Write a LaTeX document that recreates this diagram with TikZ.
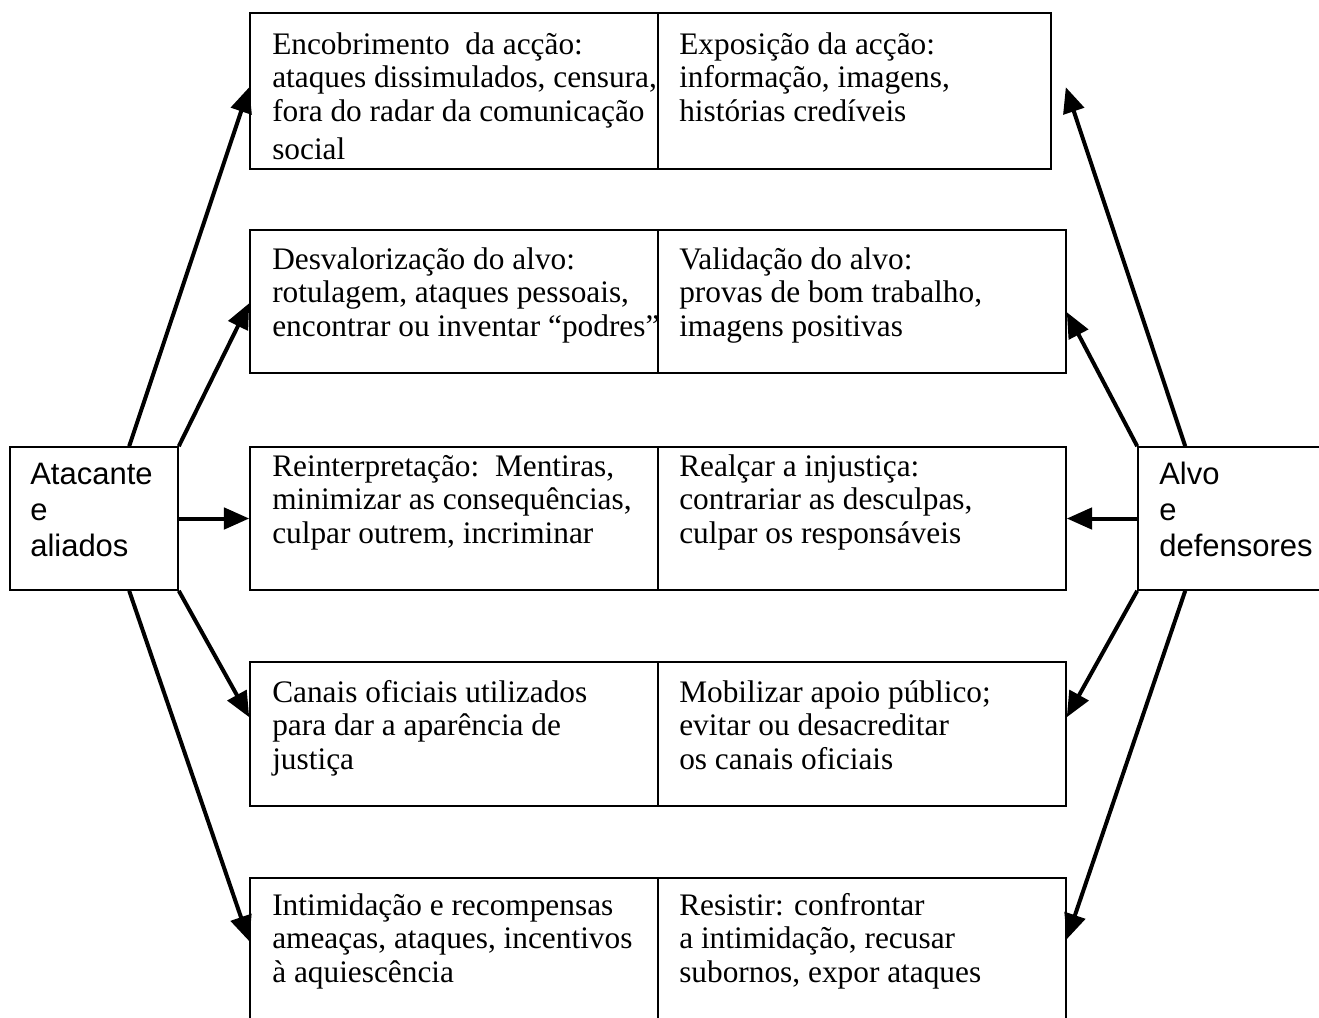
\documentclass[tikz,border=0pt]{standalone}
\usepackage{fontspec}
\setmainfont{Liberation Serif}
\newfontfamily\arl{Liberation Sans}
\usetikzlibrary{arrows.meta,fit,calc}
\begin{document}
\begin{tikzpicture}[x=0.75pt,y=-0.75pt,
  cell/.style={draw, line width=1.2pt, inner sep=0pt},
  txt/.style={inner sep=0pt, anchor=base west, font=\fontsize{23.5pt}{25.4pt}\selectfont},
  sidetxt/.style={inner sep=0pt, anchor=base west, font=\arl\fontsize{23.25pt}{27pt}\selectfont},
  arr/.style={line width=3pt, -{Triangle[length=19pt,width=16pt]}}]
\clip (0,0) rectangle (1319,1017);
\fill[white] (0,0) rectangle (1319,1017);

% text of cells (left column clipped to its cell)
\begin{scope}
\clip (250,13) rectangle (658,169);
\node[txt] (t1l) at (272,54) {\begin{tabular}[t]{@{}l@{}}Encobrimento\ \ da acção:\\ ataques dissimulados, censura,\\ fora do radar da comunicação\\[3pt] social\end{tabular}};
\end{scope}
\node[txt] (t1r) at (679,54) {\begin{tabular}[t]{@{}l@{}}Exposição da acção:\\ informação, imagens,\\ histórias credíveis\end{tabular}};

\begin{scope}
\clip (250,230) rectangle (658,373);
\node[txt] (t2l) at (272,269) {\begin{tabular}[t]{@{}l@{}}Desvalorização do alvo:\\ rotulagem, ataques pessoais,\\ encontrar ou inventar “podres”\end{tabular}};
\end{scope}
\node[txt] (t2r) at (679,269) {\begin{tabular}[t]{@{}l@{}}Validação do alvo:\\ provas de bom trabalho,\\ imagens positivas\end{tabular}};

\node[txt] (t3l) at (272,476) {\begin{tabular}[t]{@{}l@{}}Reinterpretação:\ \ Mentiras,\\ minimizar as consequências,\\ culpar outrem, incriminar\end{tabular}};
\node[txt] (t3r) at (679,476) {\begin{tabular}[t]{@{}l@{}}Realçar a injustiça:\\ contrariar as desculpas,\\ culpar os responsáveis\end{tabular}};

\node[txt] (t4l) at (272,702) {\begin{tabular}[t]{@{}l@{}}Canais oficiais utilizados\\ para dar a aparência de\\ justiça\end{tabular}};
\node[txt] (t4r) at (679,702) {\begin{tabular}[t]{@{}l@{}}Mobilizar apoio público;\\ evitar ou desacreditar\\ os canais oficiais\end{tabular}};

\node[txt] (t5l) at (272,915) {\begin{tabular}[t]{@{}l@{}}Intimidação e\ recompensas\\ ameaças, ataques, incentivos\\ à aquiescência\end{tabular}};
\node[txt] (t5r) at (679,915) {\begin{tabular}[t]{@{}l@{}}Resistir: confrontar\\ a intimidação, recusar\\ subornos, expor ataques\end{tabular}};

% cells
\node[cell, fit={(250,13) (658,169)}] (r1l) {};
\node[cell, fit={(658,13) (1051,169)}] (r1r) {};
\node[cell, fit={(250,230) (658,373)}] (r2l) {};
\node[cell, fit={(658,230) (1066,373)}] (r2r) {};
\node[cell, fit={(250,447) (658,590)}] (r3l) {};
\node[cell, fit={(658,447) (1066,590)}] (r3r) {};
\node[cell, fit={(250,662) (658,806)}] (r4l) {};
\node[cell, fit={(658,662) (1066,806)}] (r4r) {};
\node[cell, fit={(250,878) (658,1030)}] (r5l) {};
\node[cell, fit={(658,878) (1066,1030)}] (r5r) {};

% side boxes
\node[cell, fit={(10,447) (178,590)}] (atk) {};
\node[cell, fit={(1138,447) (1330,590)}] (alv) {};
\node[sidetxt] (atkt) at (30,484) {\begin{tabular}[t]{@{}l@{}}Atacante\\ e\\ aliados\end{tabular}};
\node[sidetxt] (alvt) at (1159,484) {\begin{tabular}[t]{@{}l@{}}Alvo\\ e\\ defensores\end{tabular}};

% arrows from attacker
\draw[arr] ($(atk.north west)+(120,0)$) -- ($(r1l.north west)+(0,75)$);
\draw[arr] (atk.north east) -- ($(r2l.north west)+(0,74)$);
\draw[arr] (atk.east) -- (r3l.west);
\draw[arr] (atk.south east) -- ($(r4l.north west)+(0,56)$);
\draw[arr] ($(atk.south west)+(120,0)$) -- ($(r5l.north west)+(0,64)$);

% arrows from target
\coordinate (r1tip) at ($(r1r.north east)+(14,75)$);
\draw[arr] ($(alv.north west)+(48,0)$) -- (r1tip);
\draw[arr] (alv.north west) -- ($(r2r.north east)+(0,83)$);
\draw[arr] (alv.west) -- (r3r.east);
\draw[arr] (alv.south west) -- ($(r4r.north east)+(0,56)$);
\draw[arr] ($(alv.south west)+(48,0)$) -- ($(r5r.north east)+(0,62)$);
\end{tikzpicture}
\end{document}
